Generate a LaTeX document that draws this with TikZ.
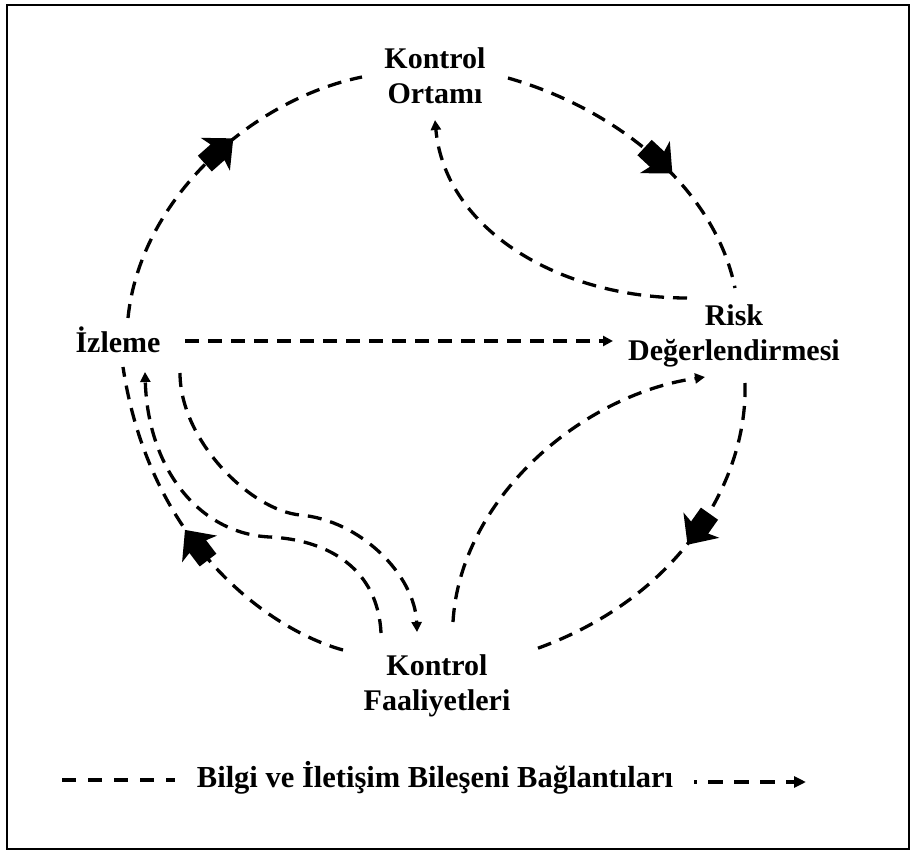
\documentclass[tikz,border=0pt]{standalone}
\usepackage{fontspec}
\setmainfont{Liberation Serif}
\usetikzlibrary{arrows.meta,decorations.markings}

% filled block arrowhead placed mid-way along the outer cycle edges
\newcommand{\blockhead}{\fill (17,0) -- (-7,22) -- (-4,10.5) -- (-21,10.5) -- (-21,-10.5) -- (-4,-10.5) -- (-7,-22) -- cycle;}

\tikzset{
  label/.style={font=\fontsize{30}{35}\selectfont\bfseries, align=center, inner sep=0pt, anchor=base},
  legendtext/.style={font=\fontsize{30.5}{35}\selectfont\bfseries, inner sep=0pt, anchor=base},
  link/.style={line width=3.3pt, dash pattern=on 14pt off 9pt},
  loopedge/.style={link, postaction={decorate},
    decoration={markings, mark=at position #1 with {\blockhead}}},
  flow/.style={link, -{Triangle[length=10pt,width=10pt]}},
  frame/.style={line width=2pt}
}

\begin{document}
\begin{tikzpicture}[x=1pt,y=-1pt]
  \useasboundingbox (0,0) rectangle (911,851);
  \draw[frame] (7,5) rectangle (909,849);

  % components (base = baseline of the last line)
  \node[label] (ko) at (435,103) {Kontrol\\Ortamı};
  \node[label] (rd) at (734,360) {Risk\\Değerlendirmesi};
  \node[label] (iz) at (118,352) {İzleme};
  \node[label] (kf) at (437,710) {Kontrol\\Faaliyetleri};

  % outer cycle
  \draw[loopedge=0.55] ([shift={(10,-34)}]iz.base) .. controls +(12,-118) and +(-112,23) .. ([shift={(-73,-26)}]ko.base);
  \draw[loopedge=0.54] ([shift={(73,-25)}]ko.base) .. controls +(112,32) and +(-20,-98) .. ([shift={(1,-72)}]rd.base);
  \draw[loopedge=0.43] ([shift={(11,23)}]rd.base) .. controls +(3,97) and +(150,-51) .. ([shift={(93,-59)}]kf.base);
  \draw[loopedge=0.49] ([shift={(-94,-60)}]kf.base) .. controls +(-73,-20) and +(27,178) .. ([shift={(5,15)}]iz.base);

  % information and communication links
  \draw[flow] ([shift={(-47,-62)}]rd.base) .. controls +(-127,0) and +(10,110) .. ([shift={(0,17)}]ko.base);
  \draw[flow] ([shift={(67,-11)}]iz.base) -- ([shift={(-121,-19)}]rd.base);
  \draw[flow] ([shift={(16,-88)}]kf.base) .. controls +(7,-122) and +(-125,18) .. ([shift={(-29,17)}]rd.base);
  \draw[flow] ([shift={(62,21)}]iz.base) .. controls +(0,67) and +(-50,-5) .. (300,515)
              .. controls +(60,5) and +(-2,-57) .. ([shift={(-20,-78)}]kf.base);
  \draw[flow] ([shift={(-56,-77)}]kf.base) .. controls +(-3,-63) and +(60,3) .. (270,537)
              .. controls +(-70,-3) and +(3,98) .. ([shift={(27,20)}]iz.base);

  % legend
  \node[legendtext] (lg) at (435,787) {Bilgi ve İletişim Bileşeni Bağlantıları};
  \coordinate (lgl) at (62,780);
  \coordinate (lgr) at (806,782);
  \draw[line width=3.2pt, dash pattern=on 14pt off 12pt] (lgl) -- ([xshift=-22pt]lg.west |- lgl);
  \draw[line width=3.2pt, dash pattern=on 15pt off 11pt, dash phase=12pt, -{Triangle[length=12pt,width=11pt]}]
       ([xshift=21pt]lg.east |- lgr) -- (lgr);
\end{tikzpicture}
\end{document}
